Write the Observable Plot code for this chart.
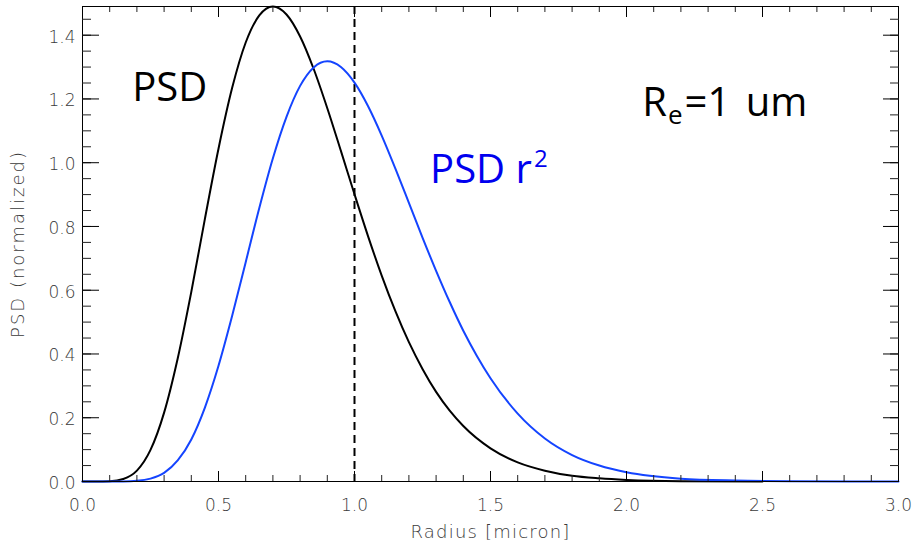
<!DOCTYPE html>
<html>
<head>
<meta charset="utf-8">
<script src="https://cdn.jsdelivr.net/npm/d3@7"></script>
<script src="https://cdn.jsdelivr.net/npm/@observablehq/plot@0.6"></script>
<style>
  html, body { margin: 0; padding: 0; background: #fff; }
</style>
</head>
<body>
<div id="chart"></div>
<script>
// ---- data ----
const psdRadius = [0, 0.05, 0.10, 0.15, 0.20, 0.25, 0.30, 0.35, 0.40, 0.45, 0.50, 0.55, 0.60, 0.65, 0.70, 0.75, 0.80, 0.85, 0.90, 0.95, 1.00, 1.05, 1.10, 1.15, 1.20, 1.25, 1.30, 1.35, 1.40, 1.50, 1.60, 1.70, 1.80, 1.90, 2.00, 2.20, 2.50];
const psdValue = [0, 0, 0.001, 0.008, 0.034, 0.099, 0.216, 0.386, 0.595, 0.824, 1.044, 1.234, 1.377, 1.462, 1.490, 1.465, 1.396, 1.294, 1.171, 1.037, 0.901, 0.769, 0.646, 0.535, 0.437, 0.353, 0.281, 0.222, 0.174, 0.104, 0.060, 0.034, 0.018, 0.010, 0.005, 0.001, 0];

const psdR2Radius = [0, 0.10, 0.15, 0.20, 0.25, 0.30, 0.35, 0.40, 0.45, 0.50, 0.55, 0.60, 0.65, 0.70, 0.75, 0.80, 0.85, 0.90, 0.95, 1.00, 1.05, 1.10, 1.15, 1.20, 1.25, 1.30, 1.35, 1.40, 1.45, 1.50, 1.60, 1.70, 1.80, 1.90, 2.00, 2.20, 2.40, 2.60, 3.00];
const psdR2Value = [0, 0, 0.0002, 0.002, 0.009, 0.027, 0.066, 0.132, 0.232, 0.363, 0.519, 0.688, 0.858, 1.014, 1.144, 1.241, 1.299, 1.318, 1.300, 1.251, 1.177, 1.085, 0.982, 0.874, 0.765, 0.661, 0.563, 0.473, 0.394, 0.324, 0.213, 0.135, 0.083, 0.050, 0.029, 0.009, 0.003, 0.001, 0];

const effectiveRadius = [1.0];

const xMajorTicks = [0, 0.5, 1.0, 1.5, 2.0, 2.5, 3.0];
const xMinorTicks = d3.range(0, 31).map(i => i / 10);
const yMajorTicks = [0, 0.2, 0.4, 0.6, 0.8, 1.0, 1.2, 1.4];
const yMinorTicks = d3.range(0, 30).map(i => i / 20);

const xTitle = "Radius [micron]";
const yTitle = "PSD (normalized)";

const annotationText = ["PSD", "PSD r²", "Rₑ=1 um"];
const annotationRadius = [0.183, 1.278, 2.058];
const annotationValue = [1.195, 0.936, 1.145];

// ---- tables ----
const psd = psdRadius.map((r, i) => ({radius: r, value: psdValue[i]}));
const psdR2 = psdR2Radius.map((r, i) => ({radius: r, value: psdR2Value[i]}));
const annotations = annotationText.map((t, i) => ({text: t, radius: annotationRadius[i], value: annotationValue[i]}));

const tickFont = {fontFamily: "DejaVu Sans", fontWeight: 200};
const fmt = d3.format(".1f");

const chart = Plot.plot({
  width: 914,
  height: 547,
  marginLeft: 82,
  marginRight: 16,
  marginTop: 6,
  marginBottom: 66,
  style: {fontFamily: "DejaVu Sans", fontSize: "17px", background: "#fff", color: "#000", overflow: "visible"},
  x: {domain: [0, 3]},
  y: {domain: [0, 1.49]},
  marks: [
    Plot.ruleX(effectiveRadius, {stroke: "#000", strokeWidth: 2, strokeDasharray: "8,5"}),
    Plot.line(psd, {x: "radius", y: "value", stroke: "#000", strokeWidth: 2, curve: "monotone-x"}),
    Plot.line(psdR2, {x: "radius", y: "value", stroke: "#1444ff", strokeWidth: 2, curve: "monotone-x"}),
    Plot.frame({stroke: "#000", strokeWidth: 1}),
    // inward ticks, mirrored on all sides
    Plot.axisX(xMinorTicks, {anchor: "bottom", tickSize: -6, fill: "none", label: null, stroke: "#222"}),
    Plot.axisX(xMajorTicks, {anchor: "bottom", tickSize: -10, fill: "none", label: null, stroke: "#000"}),
    Plot.axisX(xMinorTicks, {anchor: "top", tickSize: -5, fill: "none", label: null, stroke: "#222"}),
    Plot.axisX(xMajorTicks, {anchor: "top", tickSize: -10, fill: "none", label: null, stroke: "#000"}),
    Plot.axisY(yMinorTicks, {anchor: "left", tickSize: -9, fill: "none", label: null, stroke: "#222"}),
    Plot.axisY(yMajorTicks, {anchor: "left", tickSize: -17, fill: "none", label: null, stroke: "#000"}),
    Plot.axisY(yMinorTicks, {anchor: "right", tickSize: -9, fill: "none", label: null, stroke: "#222"}),
    Plot.axisY(yMajorTicks, {anchor: "right", tickSize: -16, fill: "none", label: null, stroke: "#000"}),
    // tick labels
    Plot.axisX(xMajorTicks, {anchor: "bottom", tickSize: 0, tickPadding: 17, stroke: "none", tickFormat: fmt, label: null, fill: "#3a3a3a", ...tickFont}),
    Plot.axisY(yMajorTicks, {anchor: "left", tickSize: 0, tickPadding: 7, stroke: "none", tickFormat: fmt, label: null, fill: "#3a3a3a", dy: 2, ...tickFont}),
    // axis titles
    Plot.text([xTitle], {frameAnchor: "bottom", dy: 51, lineAnchor: "middle", textAnchor: "middle", fill: "#3a3a3a", fontSize: 18, ...tickFont}),
    Plot.text([yTitle], {frameAnchor: "left", dx: -64, rotate: -90, lineAnchor: "middle", textAnchor: "middle", fill: "#3a3a3a", fontSize: 18, ...tickFont}),
    // annotations
    Plot.text(annotations.filter((d, i) => i !== 1), {x: "radius", y: "value", text: "text", textAnchor: "start", lineAnchor: "bottom", fontFamily: "Open Sans", fontSize: 40, fill: "#000"}),
    Plot.text(annotations.filter((d, i) => i === 1), {x: "radius", y: "value", text: "text", textAnchor: "start", lineAnchor: "bottom", fontFamily: "Open Sans", fontSize: 40, fill: "#0000ee"})
  ]
});

// typographic touches: letter spacing of the axis titles, real super/subscripts
d3.select(chart).selectAll("text").each(function() {
  const t = this.textContent;
  const sel = d3.select(this);
  if (t === xTitle) sel.style("letter-spacing", "1.2px");
  if (t === yTitle) sel.style("letter-spacing", "2px");
  if (t === "PSD r²") {
    sel.text(null);
    sel.append("tspan").text("PSD r");
    sel.append("tspan").attr("font-size", 24).attr("dy", -16).attr("dx", 2).text("2");
  }
  if (t === "Rₑ=1 um") {
    sel.text(null);
    sel.append("tspan").text("R");
    sel.append("tspan").attr("font-size", 26).attr("dy", 8).attr("dx", 1).text("e");
    sel.append("tspan").attr("dy", -8).attr("dx", 2).style("word-spacing", "5px").text("=1 um");
  }
});

document.getElementById("chart").appendChild(chart);
</script>
</body>
</html>
